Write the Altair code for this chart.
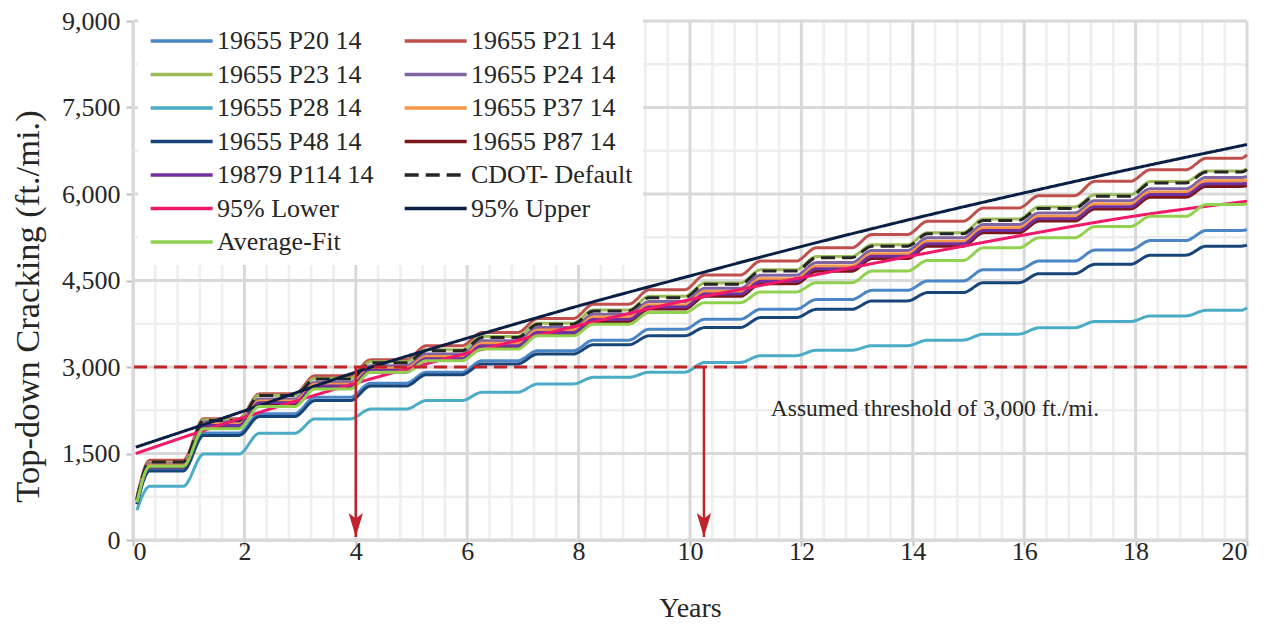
import altair as alt
import pandas as pd
import numpy as np

FONT = "Liberation Serif"
TXT = "#262626"

SERIES = ["19655 P20 14", "19655 P21 14", "19655 P23 14", "19655 P24 14",
          "19655 P28 14", "19655 P37 14", "19655 P48 14", "19655 P87 14",
          "19879 P114 14", "CDOT- Default", "95% Lower", "95% Upper", "Average-Fit"]
COLORS = {"19655 P20 14": "#4A86C5", "19655 P21 14": "#C0504D", "19655 P23 14": "#9BBB59",
          "19655 P24 14": "#8064A2", "19655 P28 14": "#4BACC6", "19655 P37 14": "#F79646",
          "19655 P48 14": "#17457A", "19655 P87 14": "#7A1518", "19879 P114 14": "#7030A0",
          "CDOT- Default": "#262626", "95% Lower": "#F0196A", "95% Upper": "#0A1F44",
          "Average-Fit": "#92D050"}
DASHED = ["CDOT- Default"]
# legend reading order: two columns, filled column by column
LEGEND_ORDER = ["19655 P20 14", "19655 P23 14", "19655 P28 14", "19655 P48 14",
                "19879 P114 14", "95% Lower", "Average-Fit",
                "19655 P21 14", "19655 P24 14", "19655 P37 14", "19655 P87 14",
                "CDOT- Default", "95% Upper"]

# step-like (seasonal) series: value at start, yearly plateau values (years 0..19), value at year 20
START_YEAR = 0.07
STEP_START = {
    "19655 P20 14": 640, "19655 P21 14": 740, "19655 P23 14": 720, "19655 P24 14": 700,
    "19655 P28 14": 518, "19655 P37 14": 690, "19655 P48 14": 620, "19655 P87 14": 680,
    "19879 P114 14": 685, "CDOT- Default": 710, "Average-Fit": 650,
}
P20 = [1238, 1854, 2188, 2476, 2720, 2908, 3109, 3282, 3466, 3656, 3829, 4002, 4170, 4330, 4491, 4687, 4837, 5027, 5194, 5367]
P21 = [1382, 2102, 2534, 2850, 3125, 3368, 3598, 3840, 4090, 4340, 4595, 4837, 5067, 5298, 5528, 5757, 5971, 6219, 6421, 6621]
P23 = [1340, 2080, 2510, 2805, 3090, 3300, 3530, 3760, 3990, 4225, 4455, 4685, 4915, 5120, 5330, 5565, 5775, 5985, 6215, 6400]
P24 = [1324, 2045, 2447, 2735, 3023, 3225, 3455, 3685, 3915, 4134, 4365, 4590, 4810, 5020, 5240, 5470, 5672, 5885, 6092, 6288]
P28 = [930, 1490, 1850, 2100, 2270, 2418, 2562, 2706, 2821, 2910, 3080, 3196, 3290, 3370, 3466, 3570, 3680, 3788, 3886, 3984]
P37 = [1300, 2010, 2410, 2700, 2980, 3180, 3410, 3640, 3865, 4080, 4310, 4530, 4750, 4965, 5182, 5413, 5614, 5827, 6035, 6230]
P48 = [1198, 1814, 2141, 2418, 2670, 2867, 3052, 3225, 3386, 3541, 3685, 3857, 4000, 4146, 4290, 4462, 4618, 4780, 4940, 5096]
P87 = [1265, 1965, 2355, 2645, 2915, 3115, 3340, 3565, 3790, 4005, 4225, 4445, 4660, 4880, 5096, 5327, 5530, 5740, 5945, 6132]
P114 = [1280, 1985, 2380, 2670, 2945, 3145, 3370, 3600, 3825, 4040, 4265, 4485, 4705, 4920, 5136, 5367, 5570, 5780, 5990, 6178]
CDOT = [1353, 2073, 2505, 2793, 3075, 3282, 3512, 3743, 3973, 4203, 4434, 4664, 4894, 5096, 5309, 5542, 5750, 5960, 6190, 6380]
AVG = [1278, 1929, 2315, 2620, 2908, 3109, 3311, 3541, 3743, 3944, 4116, 4301, 4462, 4664, 4848, 5067, 5240, 5435, 5614, 5816]
STEP_END = {
    "19655 P20 14": 5385, "19655 P21 14": 6679, "19655 P23 14": 6440, "19655 P24 14": 6305,
    "19655 P28 14": 4030, "19655 P37 14": 6245, "19655 P48 14": 5113, "19655 P87 14": 6145,
    "19879 P114 14": 6190, "CDOT- Default": 6420, "Average-Fit": 5833,
}
STEP_VALUES = {
    "19655 P20 14": P20, "19655 P21 14": P21, "19655 P23 14": P23, "19655 P24 14": P24,
    "19655 P28 14": P28, "19655 P37 14": P37, "19655 P48 14": P48, "19655 P87 14": P87,
    "19879 P114 14": P114, "CDOT- Default": CDOT, "Average-Fit": AVG,
}
PLATEAU_FROM = 0.27   # fraction of the year where the plateau starts
PLATEAU_TO = 0.9      # fraction of the year where the plateau ends
END_YEAR = 20

# smooth fitted bounds
FIT_YEARS = [0.05, 2, 4, 6, 8, 10, 12, 14, 16, 18, 20]
UPPER = [1610, 2240, 2910, 3500, 4060, 4580, 5090, 5570, 6020, 6450, 6858]
LOWER = [1500, 2130, 2720, 3240, 3720, 4170, 4550, 4930, 5290, 5620, 5873]

THRESHOLD = 3000
ARROW_YEARS = [4.0, 10.25]
ARROW_TIP = 52
NOTE = "Assumed threshold of 3,000 ft./mi."
NOTE_X, NOTE_Y = 11.45, 2280

rows = []
for s in SERIES:
    if s in STEP_VALUES:
        rows.append({"series": s, "year": START_YEAR, "value": STEP_START[s]})
        for k, v in enumerate(STEP_VALUES[s]):
            a = k + (0.3 if k == 0 else PLATEAU_FROM)
            rows.append({"series": s, "year": a, "value": v})
            rows.append({"series": s, "year": k + PLATEAU_TO, "value": v})
        rows.append({"series": s, "year": END_YEAR, "value": STEP_END[s]})
    else:
        vals = LOWER if s == "95% Lower" else UPPER
        for t, v in zip(FIT_YEARS, vals):
            rows.append({"series": s, "year": t, "value": v})
df = pd.DataFrame(rows)

X = alt.Scale(domain=[0, 20], nice=False)
Y = alt.Scale(domain=[0, 9000], nice=False)

major_x = pd.DataFrame({"x": list(range(0, 21, 2))})
minor_x = pd.DataFrame({"x": [v for v in np.round(np.arange(0, 20.01, 0.4), 2) if abs(v / 2 - round(v / 2)) > 1e-6]})
major_y = pd.DataFrame({"y": list(range(0, 9001, 1500))})
minor_y = pd.DataFrame({"y": list(range(750, 9000, 1500))})

g_minor_x = alt.Chart(minor_x).mark_rule(color="#EEEEEE", strokeWidth=2.5).encode(x=alt.X("x:Q", scale=X))
g_minor_y = alt.Chart(minor_y).mark_rule(color="#EEEEEE", strokeWidth=2.5).encode(y=alt.Y("y:Q", scale=Y))
g_major_x = alt.Chart(major_x).mark_rule(color="#D9D9D9", strokeWidth=3).encode(x=alt.X("x:Q", scale=X))
g_major_y = alt.Chart(major_y).mark_rule(color="#D9D9D9", strokeWidth=3).encode(y=alt.Y("y:Q", scale=Y))

legend = alt.Legend(
    title=None, orient="none", legendX=5, legendY=-3, columns=2,
    symbolType="M-1,0H5", symbolSize=427, symbolStrokeWidth=3.5,
    labelFontSize=26, labelFont=FONT, labelColor=TXT, labelOffset=43,
    rowPadding=7.5, columnPadding=23, fillColor="white", padding=10, labelLimit=400,
)

lines = alt.Chart(df).mark_line(strokeWidth=3, interpolate="monotone").encode(
    x=alt.X("year:Q", scale=X, axis=alt.Axis(
        values=list(range(0, 21, 2)), title="Years", grid=False,
        labelFont=FONT, labelFontSize=26, labelColor=TXT, labelPadding=5, labelBaseline="middle",
        titleFont=FONT, titleFontSize=28, titleFontWeight="normal", titleColor=TXT,
        titleY=68, titleBaseline="middle",
        domainColor="#BFBFBF", domainWidth=2, tickColor="#BFBFBF", tickWidth=2, tickSize=6)),
    y=alt.Y("value:Q", scale=Y, axis=alt.Axis(
        values=list(range(0, 9001, 1500)), format=",d", title="Top-down Cracking (ft./mi.)", grid=False,
        labelFont=FONT, labelFontSize=26, labelColor=TXT, labelPadding=6,
        titleFont=FONT, titleFontSize=34.5, titleFontWeight="normal", titleColor=TXT,
        titleX=-105, titleY=285, titleBaseline="middle",
        domainColor="#BFBFBF", domainWidth=2, tickColor="#BFBFBF", tickWidth=2, tickSize=7)),
    color=alt.Color("series:N", scale=alt.Scale(domain=LEGEND_ORDER, range=[COLORS[s] for s in LEGEND_ORDER]),
                    legend=legend),
    strokeDash=alt.StrokeDash("series:N", scale=alt.Scale(
        domain=LEGEND_ORDER, range=[[14, 7] if s in DASHED else [1, 0] for s in LEGEND_ORDER]), legend=legend),
    detail="series:N",
)

thr = alt.Chart(pd.DataFrame({"y": [THRESHOLD]})).mark_rule(
    color="#C0242A", strokeWidth=3, strokeDash=[13, 7]).encode(y=alt.Y("y:Q", scale=Y))

arrows_df = pd.DataFrame({"x": ARROW_YEARS, "top": [THRESHOLD] * len(ARROW_YEARS), "tip": [ARROW_TIP] * len(ARROW_YEARS)})
shafts = alt.Chart(arrows_df).mark_rule(color="#C0242A", strokeWidth=2.5).encode(
    x=alt.X("x:Q", scale=X), y=alt.Y("top:Q", scale=Y), y2=alt.Y2("tip:Q"))
heads = alt.Chart(arrows_df).mark_point(
    shape="M0,1L-0.6,-1L0,-0.55L0.6,-1Z", size=576, filled=True, color="#C0242A", opacity=1, yOffset=-12
).encode(x=alt.X("x:Q", scale=X), y=alt.Y("tip:Q", scale=Y))

note = alt.Chart(pd.DataFrame({"x": [NOTE_X], "y": [NOTE_Y], "t": [NOTE]})).mark_text(
    align="left", baseline="middle", font=FONT, fontSize=23.5, color=TXT
).encode(x=alt.X("x:Q", scale=X), y=alt.Y("y:Q", scale=Y), text="t:N")

chart = alt.layer(
    g_minor_x, g_minor_y, g_major_x, g_major_y, lines, thr, shafts, heads, note
).properties(
    width=1114, height=519,
    autosize=alt.AutoSizeParams(type="none"),
    padding={"left": 125, "top": 13, "right": 20, "bottom": 83},
).configure(font=FONT).configure_axis(labelFont=FONT, titleFont=FONT).configure_legend(
    labelFont=FONT
).configure_view(stroke=None)

chart.save("out.html", embed_options={"renderer": "svg", "actions": False})
